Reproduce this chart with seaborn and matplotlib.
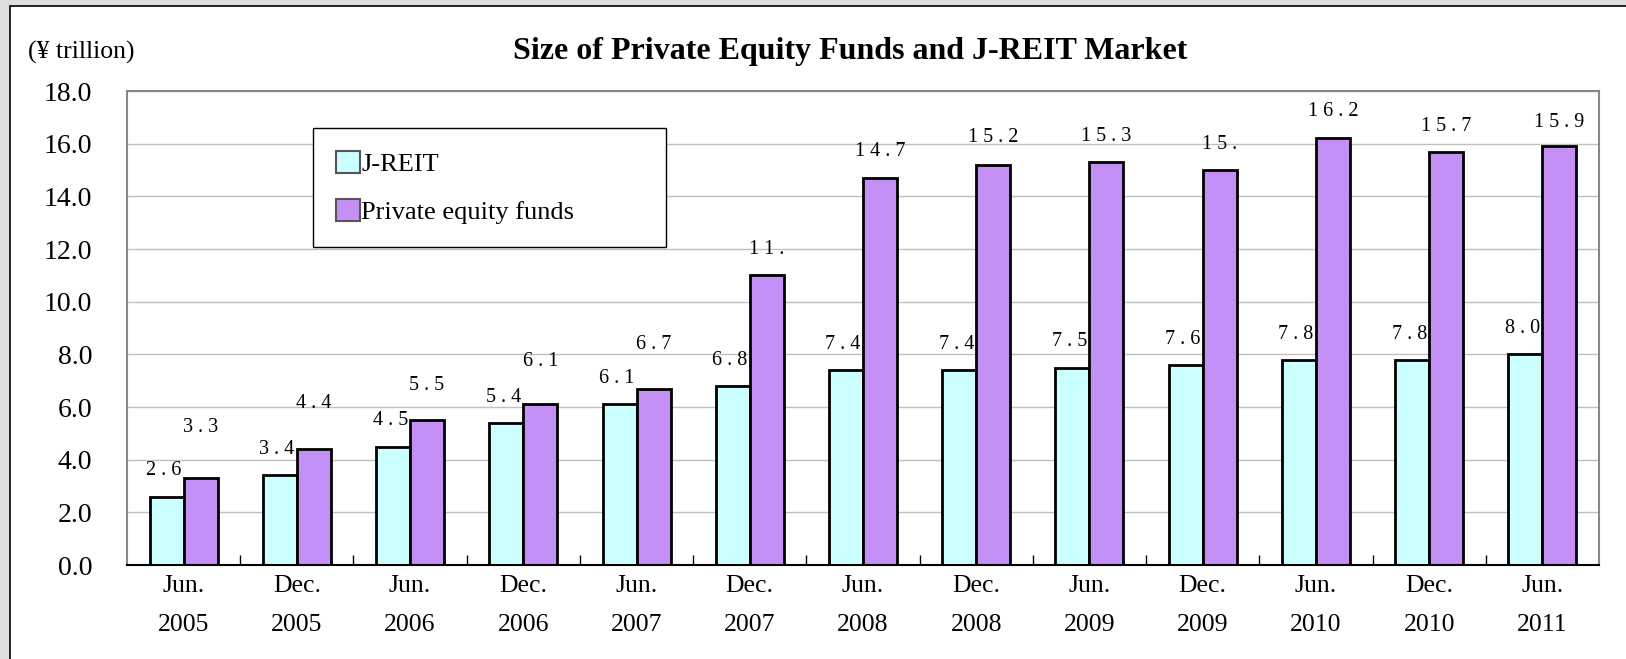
import numpy as np
import pandas as pd
import seaborn as sns
import matplotlib.pyplot as plt
from matplotlib.patches import Rectangle, Patch

# data
periods = ["Jun.\n2005", "Dec.\n2005", "Jun.\n2006", "Dec.\n2006", "Jun.\n2007",
           "Dec.\n2007", "Jun.\n2008", "Dec.\n2008", "Jun.\n2009", "Dec.\n2009",
           "Jun.\n2010", "Dec.\n2010", "Jun.\n2011"]
jreit = [2.6, 3.4, 4.5, 5.4, 6.1, 6.8, 7.4, 7.4, 7.5, 7.6, 7.8, 7.8, 8.0]
pe_funds = [3.3, 4.4, 5.5, 6.1, 6.7, 11.0, 14.7, 15.2, 15.3, 15.0, 16.2, 15.7, 15.9]
jreit_labels = ["2.6", "3.4", "4.5", "5.4", "6.1", "6.8", "7.4", "7.4", "7.5", "7.6", "7.8", "7.8", "8.0"]
pe_labels = ["3.3", "4.4", "5.5", "6.1", "6.7", "11.", "14.7", "15.2", "15.3", "15.", "16.2", "15.7", "15.9"]
series_names = ["J-REIT", "Private equity funds"]
colors = ["#ccffff", "#c490f6"]

df = pd.DataFrame({
    "period": periods * 2,
    "series": [series_names[0]] * len(periods) + [series_names[1]] * len(periods),
    "value": jreit + pe_funds,
})

sns.set_style("white")
plt.rcParams['font.family'] = ['Liberation Serif', 'DejaVu Serif']
plt.rcParams['text.color'] = 'black'
plt.rcParams['xtick.color'] = 'black'
plt.rcParams['ytick.color'] = 'black'

fig = plt.figure(figsize=(16.26, 6.59), dpi=100)
fig.patch.set_facecolor('#dedede')
fig.patches.append(Rectangle((10 / 1626, -0.1), 1.2, 1.1 - 6 / 659, transform=fig.transFigure,
                             facecolor='white', edgecolor='black', lw=1.2, zorder=-1))

ax = fig.add_axes([0.0781, 0.1426, 0.9053, 0.7193])
ax.set_zorder(2)
sns.barplot(data=df, x="period", y="value", hue="series", palette=colors, width=0.6,
            saturation=1, edgecolor='black', linewidth=2, legend=False, ax=ax)

# data labels (offsets mimic the original placement)
pe_lift = [1.75, 1.55, 1.15, 1.45, 1.5, 0.8, 0.85, 0.85, 0.8, 0.8, 0.85, 0.8, 0.75]
for i, (v, lab) in enumerate(zip(jreit, jreit_labels)):
    ax.text(i - 0.02, v + 0.8, ' '.join(lab), ha='right', va='baseline', fontsize=14.5)
for i, (v, lab) in enumerate(zip(pe_funds, pe_labels)):
    ax.text(i + 0.15, v + pe_lift[i], ' '.join(lab), ha='center', va='baseline', fontsize=14.5)

ax.set_ylim(0, 18)
ax.set_xlim(-0.5, 12.5)
ax.set_yticks(np.arange(0, 19, 2))
ax.set_yticklabels([f"{t:.1f}" for t in np.arange(0, 19, 2)])
ax.yaxis.grid(True, color='#c0c0c0', lw=1)
ax.set_axisbelow(True)
ax.tick_params(axis='y', length=0, pad=25, labelsize=20)
ax.tick_params(axis='x', which='major', length=0, pad=7, labelsize=18.5)
for t in ax.get_xticklabels():
    t.set_linespacing(2.0)
ax.set_xticks(np.arange(0.5, 12.5, 1), minor=True)
ax.tick_params(axis='x', which='minor', direction='in', length=7, width=1, color='black', bottom=True)
ax.set_xlabel('')
ax.set_ylabel('')

for s in ['left', 'top', 'right']:
    ax.spines[s].set_color('#888888')
    ax.spines[s].set_linewidth(1.5)
ax.spines['bottom'].set_color('black')
ax.spines['bottom'].set_linewidth(1.5)

handles = [Patch(facecolor=c, edgecolor='#555555', lw=1.5, label=n) for c, n in zip(colors, series_names)]
leg = ax.legend(handles=handles, loc='upper left', bbox_to_anchor=(0.1266, 0.922, 0.2394, 0.0),
                mode='expand', fancybox=False, edgecolor='black', framealpha=1, fontsize=19,
                handlelength=0.9, handleheight=0.9, handletextpad=0.05, labelspacing=0.88,
                borderpad=0.86, borderaxespad=0)
leg.get_frame().set_linewidth(1)

fig.text(0.523, 1 - 52 / 659, "Size of Private Equity Funds and J-REIT Market",
         fontsize=23, fontweight='bold', ha='center', va='center')
fig.text(28 / 1626, 1 - 52 / 659, "(¥ trillion)", fontsize=18.5, ha='left', va='center')

fig.savefig('out.png', dpi=100)
